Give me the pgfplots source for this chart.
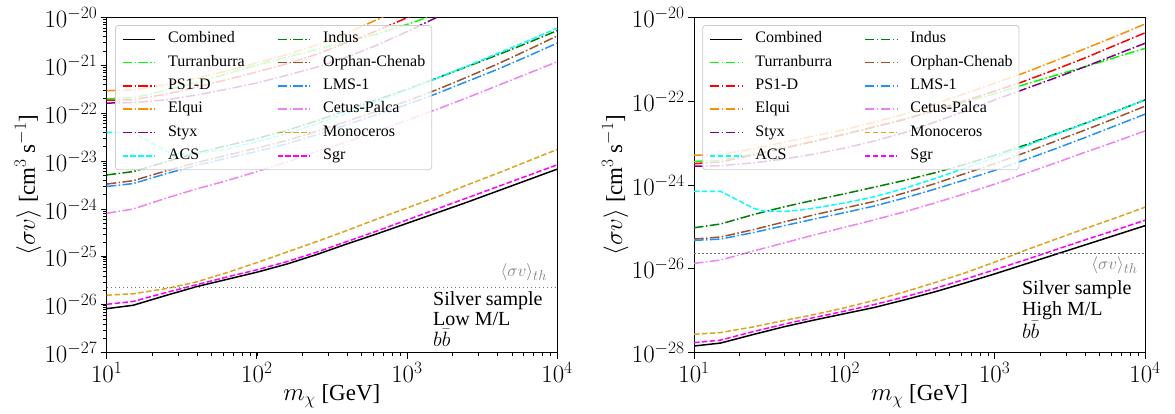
\documentclass[border=0pt]{standalone}
\usepackage{fontspec}
\setmainfont{Liberation Serif}
\usepackage{pgfplots}
\usepackage{pgfplotstable}
\pgfplotsset{compat=1.18}

\definecolor{cLime}{RGB}{0,255,0}
\definecolor{cRed}{RGB}{255,0,0}
\definecolor{cOrange}{RGB}{255,140,0}
\definecolor{cPurple}{RGB}{128,0,128}
\definecolor{cCyan}{RGB}{0,255,255}
\definecolor{cGreen}{RGB}{0,128,0}
\definecolor{cSienna}{RGB}{160,82,45}
\definecolor{cDodger}{RGB}{30,144,255}
\definecolor{cViolet}{RGB}{238,130,238}
\definecolor{cGold}{RGB}{218,165,32}
\definecolor{cMag}{RGB}{255,0,255}

% log10 of <sigma v> [cm^3 s^-1]
\pgfplotstableread{
x      comb   sgr    mono   cetus  lms    orph   indus  styx   elqui  psd    turr
10     -26.08 -25.99 -25.80 -24.09 -23.53 -23.48 -23.29 -21.79 -21.53 -21.73 -21.70
15     -26.01 -25.93 -25.77 -24.00 -23.47 -23.41 -23.22 -21.78 -21.52 -21.72 -21.68
25.12  -25.80 -25.74 -25.66 -23.77 -23.26 -23.20 -23.01 -21.72 -21.40 -21.60 -21.52
39.81  -25.62 -25.58 -25.52 -23.58 -23.09 -23.03 -22.83 -21.62 -21.27 -21.46 -21.36
63.10  -25.47 -25.42 -25.33 -23.41 -22.94 -22.88 -22.68 -21.50 -21.12 -21.30 -21.18
100    -25.32 -25.27 -25.12 -23.22 -22.80 -22.73 -22.53 -21.37 -20.95 -21.14 -21.00
158.5  -25.15 -25.10 -24.90 -23.02 -22.64 -22.57 -22.36 -21.21 -20.78 -20.97 -20.83
251.2  -24.95 -24.90 -24.68 -22.80 -22.45 -22.38 -22.16 -21.04 -20.58 -20.77 -20.67
398.1  -24.73 -24.68 -24.45 -22.60 -22.24 -22.17 -21.94 -20.83 -20.33 -20.53 -20.51
631.0  -24.52 -24.46 -24.21 -22.38 -22.03 -21.96 -21.72 -20.58 -20.05 -20.28 -20.35
1000   -24.30 -24.23 -23.98 -22.15 -21.82 -21.75 -21.50 -20.30 -19.75 -20.01 -20.15
1585   -24.08 -24.00 -23.75 -21.92 -21.59 -21.51 -21.27 -20.00 -19.45 -19.73 -19.93
2512   -23.86 -23.77 -23.50 -21.68 -21.34 -21.25 -21.03 -19.70 -19.15 -19.45 -19.70
3981   -23.63 -23.54 -23.26 -21.43 -21.09 -20.98 -20.79 -19.40 -18.85 -19.15 -19.45
6310   -23.40 -23.31 -23.01 -21.18 -20.82 -20.69 -20.54 -19.10 -18.55 -18.85 -19.20
10000  -23.17 -23.08 -22.76 -20.93 -20.54 -20.39 -20.28 -18.80 -18.25 -18.55 -18.95
}\dataL

\pgfplotstableread{
x      acs
10     -22.40
15     -22.40
25.12  -22.80
30     -22.85
39.81  -22.84
63.10  -22.75
100    -22.60
158.5  -22.43
251.2  -22.22
398.1  -22.00
631.0  -21.76
1000   -21.52
1585   -21.27
2512   -21.02
3981   -20.76
6310   -20.50
10000  -20.23
}\acsL

\pgfplotstableread{
x      comb   sgr    mono   cetus  lms    orph   indus  styx   elqui  psd    turr
10     -27.84 -27.76 -27.56 -25.87 -25.32 -25.29 -25.02 -23.55 -23.29 -23.49 -23.44
15     -27.77 -27.70 -27.52 -25.79 -25.29 -25.24 -24.93 -23.54 -23.27 -23.45 -23.41
25.12  -27.56 -27.49 -27.38 -25.57 -25.13 -25.06 -24.70 -23.47 -23.13 -23.28 -23.26
39.81  -27.38 -27.32 -27.23 -25.38 -24.97 -24.88 -24.52 -23.38 -22.98 -23.12 -23.11
63.10  -27.22 -27.16 -27.09 -25.19 -24.81 -24.71 -24.36 -23.26 -22.83 -22.96 -22.95
100    -27.07 -27.01 -26.93 -25.01 -24.66 -24.55 -24.21 -23.12 -22.68 -22.79 -22.79
158.5  -26.92 -26.85 -26.75 -24.83 -24.50 -24.39 -24.05 -22.95 -22.50 -22.61 -22.62
251.2  -26.74 -26.67 -26.55 -24.64 -24.31 -24.19 -23.89 -22.75 -22.31 -22.44 -22.42
398.1  -26.55 -26.47 -26.33 -24.43 -24.10 -23.97 -23.71 -22.50 -22.07 -22.22 -22.22
631.0  -26.34 -26.25 -26.10 -24.21 -23.88 -23.73 -23.51 -22.24 -21.82 -21.99 -22.02
1000   -26.12 -26.02 -25.84 -23.98 -23.65 -23.49 -23.29 -21.97 -21.57 -21.76 -21.82
1585   -25.89 -25.79 -25.56 -23.73 -23.40 -23.23 -23.05 -21.71 -21.32 -21.52 -21.60
2512   -25.66 -25.55 -25.30 -23.48 -23.14 -22.96 -22.79 -21.45 -21.04 -21.25 -21.39
3981   -25.43 -25.31 -25.04 -23.22 -22.87 -22.69 -22.53 -21.18 -20.75 -20.97 -21.18
6310   -25.20 -25.08 -24.79 -22.97 -22.59 -22.41 -22.25 -20.90 -20.46 -20.67 -20.96
10000  -24.97 -24.84 -24.53 -22.71 -22.31 -22.12 -21.97 -20.62 -20.16 -20.37 -20.74
}\dataR

\pgfplotstableread{
x      acs
10     -24.15
15     -24.15
25.12  -24.56
30     -24.63
39.81  -24.63
50     -24.60
63.10  -24.55
100    -24.43
158.5  -24.28
251.2  -24.08
398.1  -23.85
631.0  -23.60
1000   -23.35
1585   -23.08
2512   -22.80
3981   -22.54
6310   -22.26
10000  -21.97
}\acsR

\tikzset{
  dd/.style={line width=1.5pt, dash pattern=on 9.6pt off 2.4pt on 1.5pt off 2.4pt},
  ds/.style={line width=1.5pt, dash pattern=on 5.5pt off 2.4pt},
  annot/.style={anchor=base west, inner sep=0pt, text height=13pt, text depth=3pt, font=\fontsize{20}{22}\selectfont},
  thlab/.style={anchor=east, inner sep=0pt, text=gray, font=\fontsize{19}{22}\selectfont},
}

\newcommand{\allplots}[2]{%
  \addplot[black, line width=1.5pt] table[x=x, y expr=10^(\thisrow{comb})] {#1};
  \addlegendentry{Combined}
  \addplot[cGreen, dd] table[x=x, y expr=10^(\thisrow{indus})] {#1};
  \addlegendentry{Indus}
  \addplot[cLime, dd] table[x=x, y expr=10^(\thisrow{turr})] {#1};
  \addlegendentry{Turranburra}
  \addplot[cSienna, dd] table[x=x, y expr=10^(\thisrow{orph})] {#1};
  \addlegendentry{Orphan-Chenab}
  \addplot[cRed, dd] table[x=x, y expr=10^(\thisrow{psd})] {#1};
  \addlegendentry{PS1-D}
  \addplot[cDodger, dd] table[x=x, y expr=10^(\thisrow{lms})] {#1};
  \addlegendentry{LMS-1}
  \addplot[cOrange, dd] table[x=x, y expr=10^(\thisrow{elqui})] {#1};
  \addlegendentry{Elqui}
  \addplot[cViolet, dd] table[x=x, y expr=10^(\thisrow{cetus})] {#1};
  \addlegendentry{Cetus-Palca}
  \addplot[cPurple, dd] table[x=x, y expr=10^(\thisrow{styx})] {#1};
  \addlegendentry{Styx}
  \addplot[cGold, ds] table[x=x, y expr=10^(\thisrow{mono})] {#1};
  \addlegendentry{Monoceros}
  \addplot[cCyan, ds] table[x=x, y expr=10^(\thisrow{acs})] {#2};
  \addlegendentry{ACS}
  \addplot[cMag, ds] table[x=x, y expr=10^(\thisrow{sgr})] {#1};
  \addlegendentry{Sgr}
  \addplot[black!55, line width=1.2pt, dash pattern=on 1.5pt off 2.5pt, forget plot] coordinates {(10,2.3e-26) (10000,2.3e-26)};
}

\begin{document}
\begin{tikzpicture}
\path[use as bounding box] (0pt,0pt) rectangle (1175pt,-414pt);

\begin{axis}[
  scale only axis,
  at={(106.7pt,-352.7pt)}, anchor=south west,
  width=450.3pt, height=335.4pt,
  xmode=log, ymode=log,
  xmin=10, xmax=10000,
  ymin=1e-27, ymax=1e-20,
  enlargelimits=false,
  tick align=outside, tick pos=left,
  major tick length=6pt, minor tick length=3.5pt,
  major tick style={black, line width=0.8pt},
  minor tick style={black, line width=0.6pt},
  axis line style={line width=0.8pt},
  tick label style={font=\fontsize{24}{28}\selectfont},
  xtick={10,100,1000,10000},
  ytick={1e-27,1e-26,1e-25,1e-24,1e-23,1e-22,1e-21,1e-20},
  xlabel={$m_\chi$ [GeV]},
  ylabel={$\langle \sigma v\rangle$ [cm$^3$ s$^{-1}$]},
  every axis x label/.style={at={(axis description cs:0.5,-0.13)}, anchor=center, font=\fontsize{23}{27}\selectfont},
  every axis y label/.style={at={(axis description cs:-0.175,0.5)}, rotate=90, anchor=center, font=\fontsize{23}{27}\selectfont},
  legend columns=2,
  legend cell align=left,
  legend image code/.code={\draw[#1] (0pt,0pt) -- (32pt,0pt);},
  legend style={
    at={(axis description cs:0,1)}, anchor=north west,
    xshift=8.3pt, yshift=-7.7pt,
    font=\fontsize{16}{18}\selectfont,
    draw=black!20, line width=0.8pt, rounded corners=3pt,
    fill=white, fill opacity=0.8, text opacity=1,
    inner xsep=6.4pt, inner ysep=6.4pt,
    row sep=8.3pt,
    nodes={inner sep=0pt, text height=11pt, text depth=4pt},
    /tikz/every odd column/.append style={column sep=12.8pt},
    /tikz/every even column/.append style={column sep=32pt},
  },
]
\allplots{\dataL}{\acsL}
\node[annot] at (axis description cs:0.7246,0.1422) {Silver sample};
\node[annot] at (axis description cs:0.7246,0.0826) {Low M/L};
\node[annot] at (axis description cs:0.7246,0.020) {$b\bar{b}$};
\node[thlab] at (axis description cs:0.978,0.2406) {$\langle\sigma v\rangle_{th}$};
\end{axis}

\begin{axis}[
  scale only axis,
  at={(694pt,-352.7pt)}, anchor=south west,
  width=451pt, height=335.4pt,
  xmode=log, ymode=log,
  xmin=10, xmax=10000,
  ymin=1e-28, ymax=1e-20,
  enlargelimits=false,
  tick align=outside, tick pos=left,
  major tick length=6pt, minor tick length=3.5pt,
  major tick style={black, line width=0.8pt},
  minor tick style={black, line width=0.6pt},
  axis line style={line width=0.8pt},
  tick label style={font=\fontsize{24}{28}\selectfont},
  xtick={10,100,1000,10000},
  ytick={1e-28,1e-26,1e-24,1e-22,1e-20},
  yminorticks=false,
  xlabel={$m_\chi$ [GeV]},
  ylabel={$\langle \sigma v\rangle$ [cm$^3$ s$^{-1}$]},
  every axis x label/.style={at={(axis description cs:0.5,-0.13)}, anchor=center, font=\fontsize{23}{27}\selectfont},
  every axis y label/.style={at={(axis description cs:-0.175,0.5)}, rotate=90, anchor=center, font=\fontsize{23}{27}\selectfont},
  legend columns=2,
  legend cell align=left,
  legend image code/.code={\draw[#1] (0pt,0pt) -- (32pt,0pt);},
  legend style={
    at={(axis description cs:0,1)}, anchor=north west,
    xshift=8.3pt, yshift=-7.7pt,
    font=\fontsize{16}{18}\selectfont,
    draw=black!20, line width=0.8pt, rounded corners=3pt,
    fill=white, fill opacity=0.8, text opacity=1,
    inner xsep=6.4pt, inner ysep=6.4pt,
    row sep=8.3pt,
    nodes={inner sep=0pt, text height=11pt, text depth=4pt},
    /tikz/every odd column/.append style={column sep=12.8pt},
    /tikz/every even column/.append style={column sep=32pt},
  },
]
\allplots{\dataR}{\acsR}
\node[annot] at (axis description cs:0.727,0.1741) {Silver sample};
\node[annot] at (axis description cs:0.727,0.1120) {High M/L};
\node[annot] at (axis description cs:0.727,0.0438) {$b\bar{b}$};
\node[thlab] at (axis description cs:0.984,0.2615) {$\langle\sigma v\rangle_{th}$};
\end{axis}
\end{tikzpicture}
\end{document}
